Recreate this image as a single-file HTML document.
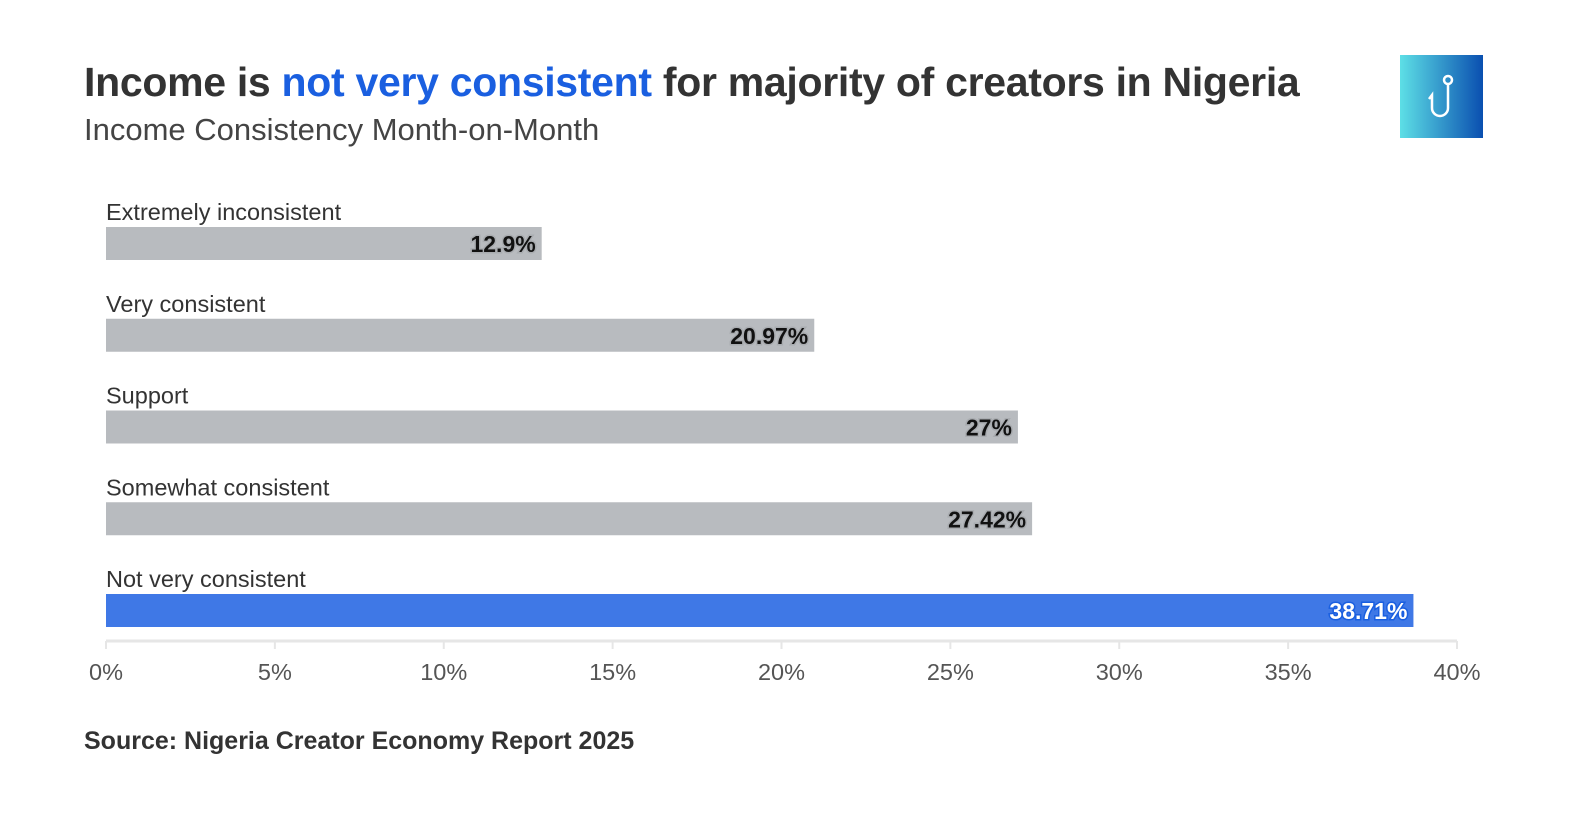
<!DOCTYPE html>
<html><head><meta charset="utf-8"><style>
body{margin:0;background:#fff;width:1588px;height:824px;overflow:hidden;font-family:"Liberation Sans",sans-serif;}
.t{position:absolute;left:84px;top:59px;font-size:41px;font-weight:bold;color:#333;letter-spacing:-0.3px;}
.t span{color:#1a5fe0;}
.s{position:absolute;left:84px;top:112px;font-size:31px;color:#444;}
.src{position:absolute;left:84px;top:727px;font-size:25px;font-weight:bold;color:#333;}
.logo{position:absolute;left:1400px;top:55px;width:83px;height:83px;background:linear-gradient(90deg,#5ddfe6,#0a4fb0);}
</style></head><body>
<div class="t">Income is <span>not very consistent</span> for majority of creators in Nigeria</div>
<div class="s">Income Consistency Month-on-Month</div>
<div class="logo"><svg width="83" height="83"><circle cx="48" cy="25" r="4" fill="none" stroke="#fff" stroke-width="2.5"/><path d="M48 29 V53 a8 8 0 0 1 -16 0 V40 l-3 4" fill="none" stroke="#fff" stroke-width="2.5"/></svg></div>
<svg id="c" width="1588" height="824" style="position:absolute;left:0;top:0"></svg>
<div class="src">Source: Nigeria Creator Economy Report 2025</div>
<script>
const categories=["Extremely inconsistent","Very consistent","Support","Somewhat consistent","Not very consistent"];
const values=[12.9,20.97,27,27.42,38.71];
const valueLabels=["12.9%","20.97%","27%","27.42%","38.71%"];
const ticks=[0,5,10,15,20,25,30,35,40];
const NS="http://www.w3.org/2000/svg";
const svg=document.getElementById('c');
const x=v=>106+v*(1457-106)/40;
const yTop=i=>227+i*91.75;
function mk(t,a){const e=document.createElementNS(NS,t);for(const k in a)e.setAttribute(k,a[k]);svg.appendChild(e);return e;}
categories.forEach((c,i)=>{
 const hi=i===categories.length-1;
 const lab=mk('text',{x:106,y:yTop(i)-7,'font-size':23.5,fill:'#333','font-family':'Liberation Sans, sans-serif'});
 lab.textContent=c;
 
 
 const r=mk('rect',{x:x(0),y:yTop(i),width:x(values[i])-x(0),height:33,fill:hi?'#3f78e6':'#b8bbbf'});
 
 
 const v=mk('text',{x:x(values[i])-6,y:yTop(i)+25,'text-anchor':'end','font-size':23,'font-weight':'bold',fill:hi?'#fff':'#111',stroke:hi?'#1a5fe0':'#a9acb0','stroke-width':3,'paint-order':'stroke','font-family':'Liberation Sans, sans-serif'});
 v.textContent=valueLabels[i];
 
 
});
const ax=mk('line',{x1:106,x2:1457,y1:641,y2:641,stroke:'#e6e6e6','stroke-width':3});


ticks.forEach(t=>{
 mk('line',{x1:x(t),x2:x(t),y1:641,y2:649,stroke:'#e6e6e6','stroke-width':2});
 const tl=mk('text',{x:x(t),y:680,'text-anchor':'middle','font-size':23.5,fill:'#555','font-family':'Liberation Sans, sans-serif'});
 tl.textContent=t+'%';
 
 
});
</script>
</body></html>
